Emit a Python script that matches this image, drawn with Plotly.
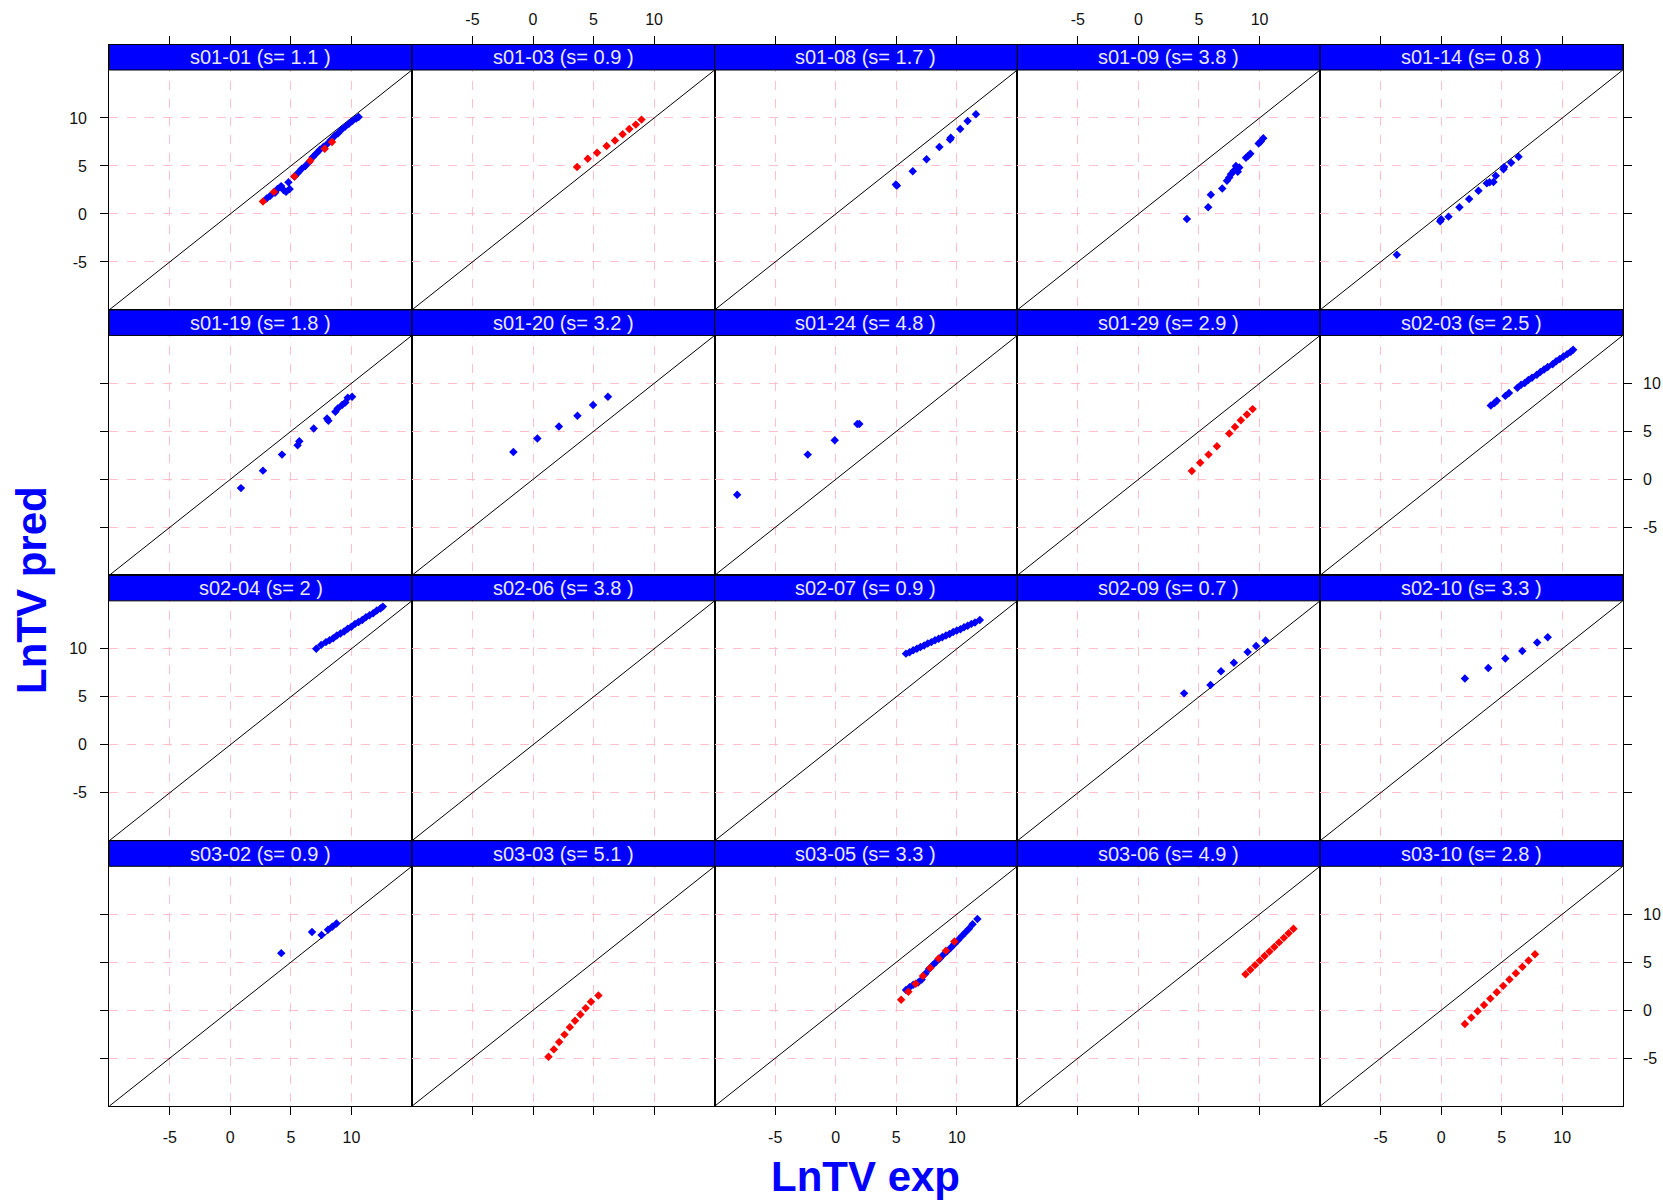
import plotly.graph_objects as go

# ---------------- data ----------------
AXIS_RANGE = [-10, 15]
TICKS = [-5, 0, 5, 10]
TICK_LABELS = ["-5", "0", "5", "10"]

TITLES = [
    "s01-01 (s= 1.1 )", "s01-03 (s= 0.9 )", "s01-08 (s= 1.7 )", "s01-09 (s= 3.8 )", "s01-14 (s= 0.8 )",
    "s01-19 (s= 1.8 )", "s01-20 (s= 3.2 )", "s01-24 (s= 4.8 )", "s01-29 (s= 2.9 )", "s02-03 (s= 2.5 )",
    "s02-04 (s= 2 )", "s02-06 (s= 3.8 )", "s02-07 (s= 0.9 )", "s02-09 (s= 0.7 )", "s02-10 (s= 3.3 )",
    "s03-02 (s= 0.9 )", "s03-03 (s= 5.1 )", "s03-05 (s= 3.3 )", "s03-06 (s= 4.9 )", "s03-10 (s= 2.8 )",
]

s0101_bx = [3.0, 3.3, 3.7, 3.9, 4.2, 4.4, 4.6, 4.8, 4.9, 5.3, 5.6, 5.9, 6.2, 6.5, 6.8, 7.1, 7.4,
            7.7, 8.0, 8.3, 8.6, 8.9, 9.2, 9.5, 9.8, 10.1, 10.4, 10.6]
s0101_by = [1.6, 1.9, 2.2, 2.6, 2.9, 2.5, 2.3, 3.3, 2.6, 3.9, 4.3, 4.7, 5.0, 5.4, 5.9, 6.3, 6.7,
            7.0, 7.3, 7.7, 8.1, 8.4, 8.8, 9.1, 9.4, 9.7, 9.95, 10.1]
s0101_rx = [2.7, 3.6, 5.3, 6.6, 7.8, 8.4]
s0101_ry = [1.3, 2.3, 3.9, 5.55, 6.8, 7.5]

s0103_rx = [3.64, 4.52, 5.29, 6.08, 6.77, 7.40, 7.95, 8.49, 8.96]
s0103_ry = [4.9, 5.76, 6.38, 7.07, 7.66, 8.31, 8.86, 9.31, 9.83]

s0108_bx = [4.97, 5.05, 6.36, 7.5, 8.56, 9.44, 9.5, 10.28, 10.89, 11.58]
s0108_by = [3.07, 2.95, 4.45, 5.69, 6.97, 7.76, 7.93, 8.86, 9.69, 10.38]

s0109_bx = [4.0, 5.76, 5.98, 6.92, 7.31, 7.5, 7.64, 7.86, 8.05, 8.33, 8.2, 8.88, 9.05, 9.24, 9.93, 10.1, 10.31]
s0109_by = [-0.52, 0.69, 2.0, 2.66, 3.45, 3.79, 4.14, 4.48, 5.0, 4.83, 4.4, 5.86, 6.05, 6.28, 7.34, 7.55, 7.9]

s0114_bx = [-3.66, -0.08, 0.0, 0.61, 1.51, 2.31, 3.08, 3.77, 4.0, 4.32, 4.51, 5.15, 5.2, 5.78, 6.39]
s0114_by = [-4.24, -0.76, -0.55, -0.28, 0.69, 1.55, 2.41, 3.21, 3.3, 3.34, 3.97, 4.66, 4.9, 5.34, 5.97]

s0119_bx = [0.88, 2.7, 4.27, 5.56, 5.7, 6.89, 7.99, 8.1, 8.68, 8.87, 9.23, 9.5, 9.7, 10.06]
s0119_by = [-0.91, 0.91, 2.58, 3.55, 3.97, 5.3, 6.34, 6.1, 7.04, 7.39, 7.74, 8.01, 8.5, 8.6]

s0120_bx = [-1.62, 0.36, 2.14, 3.67, 4.96, 6.19]
s0120_by = [2.86, 4.25, 5.5, 6.62, 7.74, 8.61]

s0124_bx = [-8.14, -2.31, -0.08, 1.78, 1.95]
s0124_by = [-1.6, 2.58, 4.08, 5.78, 5.78]

s0129_rx = [4.41, 5.1, 5.79, 6.48, 7.5, 7.97, 8.46, 8.96, 9.43]
s0129_ry = [0.87, 1.74, 2.58, 3.45, 4.77, 5.47, 6.17, 6.76, 7.32]

s0203_bx = [4.1, 4.4, 4.6, 5.3, 5.6, 6.3, 6.6, 6.9, 7.2, 7.5, 7.9, 8.2, 8.5, 8.8, 9.2, 9.5, 9.8,
            10.1, 10.4, 10.7, 10.9]
s0203_by = [7.7, 7.95, 8.2, 8.7, 9.0, 9.55, 9.85, 10.05, 10.35, 10.6, 10.9, 11.2, 11.45, 11.7,
            12.0, 12.3, 12.55, 12.8, 13.05, 13.3, 13.5]

s0204_bx = [7.1, 7.5, 7.9, 8.2, 8.5, 8.8, 9.1, 9.4, 9.7, 10.0, 10.3, 10.6, 10.9, 11.2, 11.5,
            11.8, 12.1, 12.4, 12.6]
s0204_by = [10.0, 10.4, 10.7, 10.9, 11.1, 11.4, 11.6, 11.8, 12.1, 12.3, 12.6, 12.8, 13.0, 13.3,
            13.5, 13.7, 14.0, 14.2, 14.4]

s0207_bx = [5.8, 6.1, 6.4, 6.7, 7.0, 7.3, 7.6, 7.9, 8.2, 8.5, 8.8, 9.1, 9.4, 9.7, 10.0, 10.3,
            10.6, 10.9, 11.2, 11.5, 11.9]
s0207_by = [9.5, 9.65, 9.85, 10.0, 10.2, 10.35, 10.55, 10.7, 10.9, 11.05, 11.2, 11.4, 11.55,
            11.75, 11.9, 12.05, 12.25, 12.4, 12.6, 12.75, 13.0]

s0209_bx = [3.77, 5.95, 6.82, 7.88, 9.02, 9.72, 10.5]
s0209_by = [5.36, 6.24, 7.67, 8.55, 9.66, 10.3, 10.87]

s0210_bx = [1.96, 3.89, 5.3, 6.7, 7.93, 8.8]
s0210_by = [6.9, 8.0, 9.0, 9.77, 10.65, 11.2]

s0302_bx = [4.21, 6.75, 7.54, 8.07, 8.42, 8.77]
s0302_by = [5.95, 8.16, 7.83, 8.38, 8.71, 9.04]

s0303_rx = [1.28, 1.72, 2.16, 2.6, 3.04, 3.47, 3.91, 4.35, 4.79, 5.4]
s0303_ry = [-4.85, -4.08, -3.31, -2.54, -1.76, -1.1, -0.44, 0.22, 0.88, 1.54]

s0305_bx = [5.8, 6.1, 6.4, 6.8, 7.1, 7.4, 7.7, 8.0, 8.3, 8.6, 8.9, 9.2, 9.5, 9.8, 10.1, 10.4,
            10.7, 11.0, 11.3, 11.7]
s0305_by = [2.1, 2.4, 2.65, 2.9, 3.2, 3.8, 4.3, 4.7, 5.05, 5.4, 5.8, 6.15, 6.5, 6.9, 7.3, 7.7,
            8.1, 8.5, 8.95, 9.5]
s0305_rx = [5.4, 6.0, 6.6, 7.2, 7.8, 8.5, 9.1, 9.8]
s0305_ry = [1.1, 1.93, 2.76, 3.58, 4.41, 5.38, 6.21, 7.17]

s0306_rx = [8.84, 9.24, 9.63, 10.03, 10.42, 10.82, 11.22, 11.61, 12.01, 12.4, 12.8]
s0306_ry = [3.75, 4.22, 4.7, 5.17, 5.65, 6.12, 6.59, 7.07, 7.54, 8.02, 8.49]

s0310_rx = [1.96, 2.49, 3.01, 3.54, 4.06, 4.59, 5.12, 5.64, 6.17, 6.7, 7.22, 7.75]
s0310_ry = [-1.43, -0.77, -0.11, 0.55, 1.21, 1.88, 2.54, 3.2, 3.86, 4.52, 5.18, 5.84]

EMPTY = []

PANELS = [
    (s0101_bx, s0101_by, s0101_rx, s0101_ry),
    (EMPTY, EMPTY, s0103_rx, s0103_ry),
    (s0108_bx, s0108_by, EMPTY, EMPTY),
    (s0109_bx, s0109_by, EMPTY, EMPTY),
    (s0114_bx, s0114_by, EMPTY, EMPTY),
    (s0119_bx, s0119_by, EMPTY, EMPTY),
    (s0120_bx, s0120_by, EMPTY, EMPTY),
    (s0124_bx, s0124_by, EMPTY, EMPTY),
    (EMPTY, EMPTY, s0129_rx, s0129_ry),
    (s0203_bx, s0203_by, EMPTY, EMPTY),
    (s0204_bx, s0204_by, EMPTY, EMPTY),
    (EMPTY, EMPTY, EMPTY, EMPTY),
    (s0207_bx, s0207_by, EMPTY, EMPTY),
    (s0209_bx, s0209_by, EMPTY, EMPTY),
    (s0210_bx, s0210_by, EMPTY, EMPTY),
    (s0302_bx, s0302_by, EMPTY, EMPTY),
    (EMPTY, EMPTY, s0303_rx, s0303_ry),
    (s0305_bx, s0305_by, s0305_rx, s0305_ry),
    (EMPTY, EMPTY, s0306_rx, s0306_ry),
    (EMPTY, EMPTY, s0310_rx, s0310_ry),
]

# ---------------- geometry / style ----------------
W, H = 1663, 1203
LEFT, RIGHT, TOP, BOTTOM = 109.2, 1622.8, 44.5, 1106.2
STRIP = 25.5
NROW, NCOL = 4, 5
CW = (RIGHT - LEFT) / NCOL
RH = (BOTTOM - TOP) / NROW
PH = RH - STRIP
Y_TOP = AXIS_RANGE[1] + STRIP * (AXIS_RANGE[1] - AXIS_RANGE[0]) / PH

FONT = "Liberation Sans, Arial, sans-serif"
BLUE = "#0000FF"
RED = "#FF0000"
GRID = "#FFC0CB"
TICKFONT = dict(family=FONT, size=16, color="#111111")
MSIZE = 6.5

fig = go.Figure()
shapes = []
annotations = []

for i, (bx, by, rx, ry) in enumerate(PANELS):
    r, c = divmod(i, NCOL)
    k = i + 1
    xa = "x" if k == 1 else f"x{k}"
    ya = "y" if k == 1 else f"y{k}"
    xl = "xaxis" if k == 1 else f"xaxis{k}"
    yl = "yaxis" if k == 1 else f"yaxis{k}"

    x0p = (LEFT + c * CW) / W
    x1p = (LEFT + (c + 1) * CW) / W
    ytop_px = TOP + r * RH
    y1p = 1 - ytop_px / H
    y0p = 1 - (ytop_px + RH) / H

    # diagonal y = x
    fig.add_trace(go.Scatter(x=AXIS_RANGE, y=AXIS_RANGE, mode="lines",
                             line=dict(color="black", width=1), xaxis=xa, yaxis=ya,
                             showlegend=False, hoverinfo="skip"))
    if bx:
        fig.add_trace(go.Scatter(x=bx, y=by, mode="markers",
                                 marker=dict(symbol="diamond", size=MSIZE, color=BLUE),
                                 xaxis=xa, yaxis=ya, showlegend=False))
    if rx:
        fig.add_trace(go.Scatter(x=rx, y=ry, mode="markers",
                                 marker=dict(symbol="diamond", size=MSIZE, color=RED),
                                 xaxis=xa, yaxis=ya, showlegend=False))

    xcfg = dict(domain=[x0p, x1p], range=AXIS_RANGE, anchor=ya,
                tickmode="array", tickvals=TICKS, ticktext=TICK_LABELS,
                showgrid=True, gridcolor=GRID, griddash="dash", gridwidth=1,
                zeroline=False, showline=True, linecolor="black", linewidth=1, mirror=True,
                tickfont=TICKFONT, ticklen=8, tickcolor="black", tickwidth=1)
    if r == 0:
        xcfg.update(side="top", ticks="outside", showticklabels=(c in (1, 3)), ticklabelstandoff=4)
    elif r == NROW - 1:
        xcfg.update(side="bottom", ticks="outside", showticklabels=(c in (0, 2, 4)), ticklabelstandoff=9)
    else:
        xcfg.update(ticks="", showticklabels=False)

    ycfg = dict(domain=[y0p, y1p], range=[AXIS_RANGE[0], Y_TOP], anchor=xa,
                tickmode="array", tickvals=TICKS, ticktext=TICK_LABELS,
                showgrid=True, gridcolor=GRID, griddash="dash", gridwidth=1,
                zeroline=False, showline=True, linecolor="black", linewidth=1, mirror=True,
                tickfont=TICKFONT, ticklen=8, tickcolor="black", tickwidth=1)
    if c == 0:
        ycfg.update(side="left", ticks="outside", showticklabels=(r in (0, 2)), ticklabelstandoff=10)
    elif c == NCOL - 1:
        ycfg.update(side="right", ticks="outside", showticklabels=(r in (1, 3)), ticklabelstandoff=8)
    else:
        ycfg.update(ticks="", showticklabels=False)

    fig.layout[xl] = xcfg
    fig.layout[yl] = ycfg

    # strip
    sy0 = 1 - (ytop_px + STRIP) / H
    shapes.append(dict(type="rect", xref="paper", yref="paper", x0=x0p, x1=x1p, y0=sy0, y1=y1p,
                       fillcolor=BLUE, line=dict(color="black", width=1), layer="above"))
    annotations.append(dict(text=TITLES[i], xref="paper", yref="paper",
                            x=(x0p + x1p) / 2, y=(sy0 + y1p) / 2, xanchor="center", yanchor="middle",
                            showarrow=False, font=dict(family=FONT, size=20, color="#E8E8FF")))

annotations.append(dict(text="<b>LnTV exp</b>", xref="paper", yref="paper",
                        x=865.5 / W, y=0.001, xanchor="center", yanchor="bottom",
                        showarrow=False, font=dict(family=FONT, size=42, color=BLUE)))
annotations.append(dict(text="<b>LnTV pred</b>", xref="paper", yref="paper",
                        x=31 / W, y=1 - 590 / H, xanchor="center", yanchor="middle",
                        textangle=-90, showarrow=False, font=dict(family=FONT, size=42, color=BLUE)))

fig.update_layout(width=W, height=H, margin=dict(l=0, r=0, t=0, b=0),
                  paper_bgcolor="white", plot_bgcolor="white",
                  shapes=shapes, annotations=annotations, showlegend=False)

fig.write_html("out.html", config={"displayModeBar": False},
               post_script="document.body.style.margin='0';"
                           "document.documentElement.style.overflow='hidden';")
